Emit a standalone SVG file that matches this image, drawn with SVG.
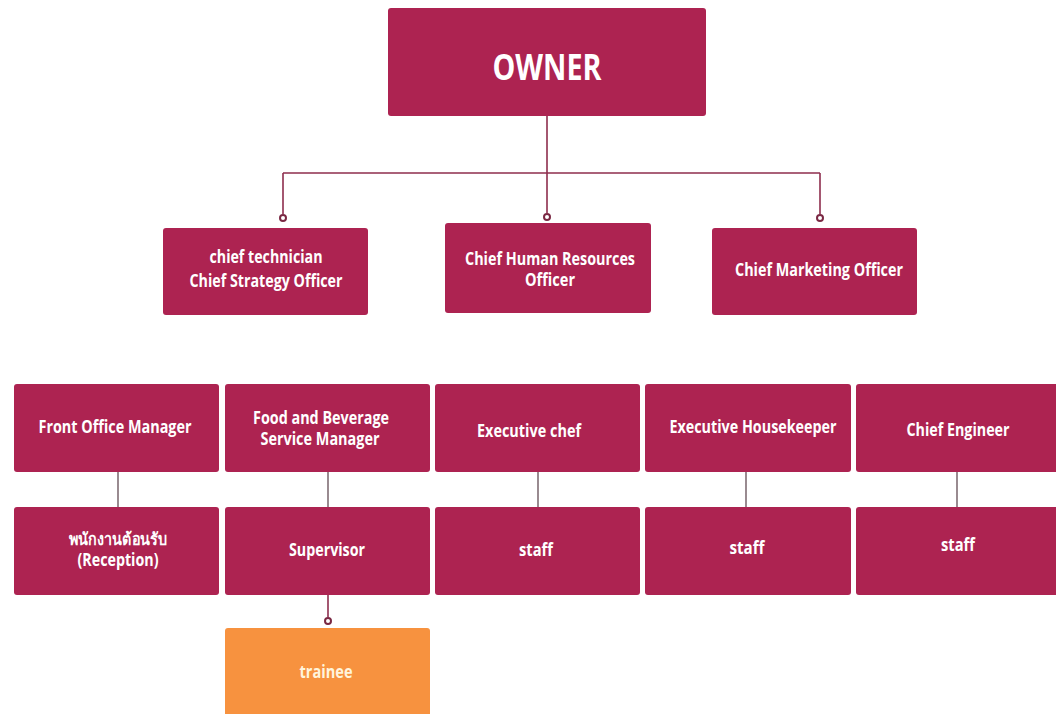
<svg xmlns="http://www.w3.org/2000/svg" width="1056" height="714" viewBox="0 0 1056 714">
  <style>
    .box { fill: #AD2351; }
    .box.orange { fill: #F7923F; }
    .lbl { font-family: "Open Sans", "Noto Sans", "DejaVu Sans", sans-serif; font-weight: 700; fill: #FFFFFF; text-anchor: middle; font-size: 17px; }
    .lbl.big { font-size: 36px; }
    .lbl.cream { fill: #FFF4DC; }
    .wire { fill: none; stroke: #8E2E4E; stroke-width: 1.6; }
    .wire.grey { stroke: #6F5A62; stroke-width: 1.4; }
    .dot { fill: #FFFFFF; stroke: #7A2843; stroke-width: 2; }
  </style>

  <rect width="1056" height="714" fill="#FFFFFF"/>

  <!-- connectors -->
  <g id="connectors">
    <path class="wire" d="M547 116 V173 M283 173 H820 M283 173 V214 M547 173 V213 M820 173 V214"/>
    <circle class="dot" cx="283" cy="218" r="3"/>
    <circle class="dot" cx="547" cy="217" r="3"/>
    <circle class="dot" cx="820" cy="218" r="3"/>
    <path class="wire grey" d="M118 472 V507 M328 472 V507 M538 472 V507 M746 472 V507 M957 472 V507"/>
    <path class="wire" d="M328 595 V617"/>
    <circle class="dot" cx="328" cy="621" r="3"/>
  </g>

  <!-- top level -->
  <g id="owner">
    <rect class="box" x="388" y="8" width="318" height="108" rx="3"/>
    <text class="lbl big" x="547" y="80" textLength="109" lengthAdjust="spacingAndGlyphs">OWNER</text>
  </g>

  <!-- executives -->
  <g id="chief-strategy">
    <rect class="box" x="163" y="228" width="205" height="87" rx="3"/>
    <text class="lbl" x="266" y="263" textLength="113" lengthAdjust="spacingAndGlyphs">chief technician</text>
    <text class="lbl" x="266" y="287" textLength="153" lengthAdjust="spacingAndGlyphs">Chief Strategy Officer</text>
  </g>
  <g id="chief-hr">
    <rect class="box" x="445" y="223" width="206" height="90" rx="3"/>
    <text class="lbl" x="550" y="265" textLength="170" lengthAdjust="spacingAndGlyphs">Chief Human Resources</text>
    <text class="lbl" x="550" y="286" textLength="50" lengthAdjust="spacingAndGlyphs">Officer</text>
  </g>
  <g id="chief-marketing">
    <rect class="box" x="712" y="228" width="205" height="87" rx="3"/>
    <text class="lbl" x="819" y="276" textLength="168" lengthAdjust="spacingAndGlyphs">Chief Marketing Officer</text>
  </g>

  <!-- department managers -->
  <g id="front-office">
    <rect class="box" x="14" y="384" width="205" height="88" rx="3"/>
    <text class="lbl" x="115" y="433" textLength="153" lengthAdjust="spacingAndGlyphs">Front Office Manager</text>
  </g>
  <g id="food-beverage">
    <rect class="box" x="225" y="384" width="205" height="88" rx="3"/>
    <text class="lbl" x="321" y="424" textLength="136" lengthAdjust="spacingAndGlyphs">Food and Beverage</text>
    <text class="lbl" x="320" y="445" textLength="119" lengthAdjust="spacingAndGlyphs">Service Manager</text>
  </g>
  <g id="executive-chef">
    <rect class="box" x="435" y="384" width="205" height="88" rx="3"/>
    <text class="lbl" x="529" y="437" textLength="104" lengthAdjust="spacingAndGlyphs">Executive chef</text>
  </g>
  <g id="housekeeper">
    <rect class="box" x="645" y="384" width="206" height="88" rx="3"/>
    <text class="lbl" x="753" y="433" textLength="167" lengthAdjust="spacingAndGlyphs">Executive Housekeeper</text>
  </g>
  <g id="chief-engineer">
    <rect class="box" x="856" y="384" width="206" height="88" rx="3"/>
    <text class="lbl" x="958" y="436" textLength="103" lengthAdjust="spacingAndGlyphs">Chief Engineer</text>
  </g>

  <!-- staff level -->
  <g id="reception">
    <rect class="box" x="14" y="507" width="205" height="88" rx="3"/>
    <text class="lbl" x="118" y="545" textLength="98" lengthAdjust="spacingAndGlyphs">พนักงานต้อนรับ</text>
    <text class="lbl" x="118" y="566" textLength="81" lengthAdjust="spacingAndGlyphs">(Reception)</text>
  </g>
  <g id="supervisor">
    <rect class="box" x="225" y="507" width="205" height="88" rx="3"/>
    <text class="lbl" x="327" y="556" textLength="76" lengthAdjust="spacingAndGlyphs">Supervisor</text>
  </g>
  <g id="kitchen-staff">
    <rect class="box" x="435" y="507" width="205" height="88" rx="3"/>
    <text class="lbl" x="536" y="556" textLength="34" lengthAdjust="spacingAndGlyphs">staff</text>
  </g>
  <g id="housekeeping-staff">
    <rect class="box" x="645" y="507" width="206" height="88" rx="3"/>
    <text class="lbl" x="747" y="554" textLength="35" lengthAdjust="spacingAndGlyphs">staff</text>
  </g>
  <g id="engineering-staff">
    <rect class="box" x="856" y="507" width="206" height="88" rx="3"/>
    <text class="lbl" x="958" y="551" textLength="34" lengthAdjust="spacingAndGlyphs">staff</text>
  </g>

  <!-- trainee -->
  <g id="trainee">
    <rect class="box orange" x="225" y="628" width="205" height="95" rx="3"/>
    <text class="lbl cream" x="326" y="678" textLength="53" lengthAdjust="spacingAndGlyphs">trainee</text>
  </g>
</svg>
